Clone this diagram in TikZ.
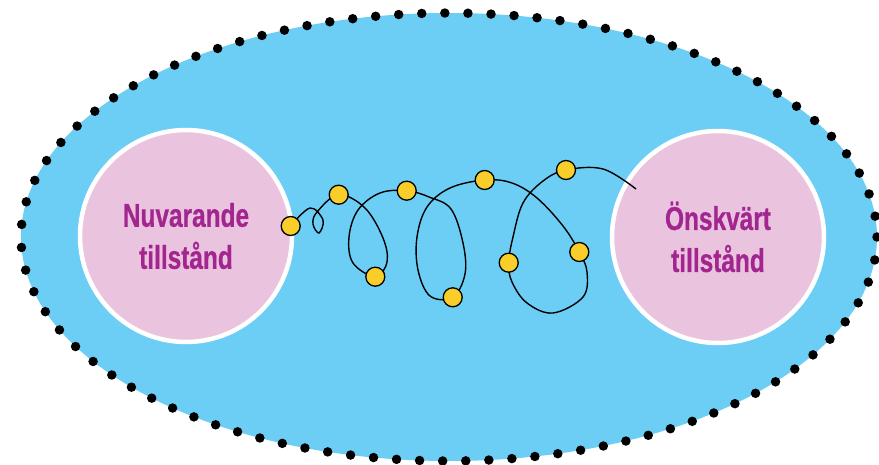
\documentclass[tikz,border=0pt]{standalone}
\usepackage{fontspec}
\setmainfont{Liberation Sans}[FakeStretch=0.74, BoldFeatures={FakeBold=0.6}]
\definecolor{himmel}{HTML}{6DCEF5}
\definecolor{rosa}{HTML}{EAC4DE}
\definecolor{lila}{HTML}{A3258F}
\definecolor{gul}{HTML}{F9CE2A}

\begin{document}
\begin{tikzpicture}[x=1pt, y=-1pt,
			base/.style={font=\bfseries\fontsize{33}{42}\selectfont, text=lila, align=center},
			tillstand/.style={base, circle, fill=rosa, draw=white, line width=4.5pt, minimum size=212pt, inner sep=0pt},
			punkt/.style={circle, fill=gul, draw=black, line width=1.3pt, minimum size=19pt, inner sep=0pt},
			slinga/.style={black, line width=1.4pt},
		]

		\useasboundingbox (0,0) rectangle (879,465);

		% omraade med prickad kant
		\fill[himmel] (449,237) ellipse [x radius=428, y radius=224];
		\draw[line width=9.5pt, line cap=round, dash pattern=on 0pt off 23.09pt] (449,237) ellipse [x radius=428, y radius=224];

		\node[tillstand] (nuvarande) at (186,236) {Nuvarande\\tillstånd};
		\node[tillstand] (onskvart) at (718,237) {Önskvärt\\tillstånd};

		% punkter paa vaegen
		\coordinate (p1) at (290.7,226);
		\coordinate (p2) at (338.7,194.7);
		\coordinate (p3) at (375.3,276.7);
		\coordinate (p4) at (406.7,190.7);
		\coordinate (p5) at (452.7,297.3);
		\coordinate (p6) at (484.7,180);
		\coordinate (p7) at (508.7,262.7);
		\coordinate (p8) at (566,170);
		\coordinate (p9) at (579.3,252);
		\coordinate (slut) at (636,189);

		\draw[slinga] plot[smooth, tension=0.6] coordinates {(p1) (310,208) (323,220) (319,233) (313,224) (317,212) (p2)
			(365,208) (383,238) (387,262) (p3) (353,263) (349,237) (358,210) (380,193) (p4)
			(429,197) (451,209) (463,243) (465,274) (p5) (430,296) (418,270) (417,237) (427,207) (450,188) (p6)
			(512,183) (537,198) (563,226) (p9) (587,272) (583,297) (553,313) (527,303) (512,282) (p7)
			(513,237) (523,203) (543,181) (p8) (603,169) (slut)};

		\foreach \i in {1,...,9}
			\node[punkt] (punkt-\i) at (p\i) {};

		\end{tikzpicture}
\end{document}
